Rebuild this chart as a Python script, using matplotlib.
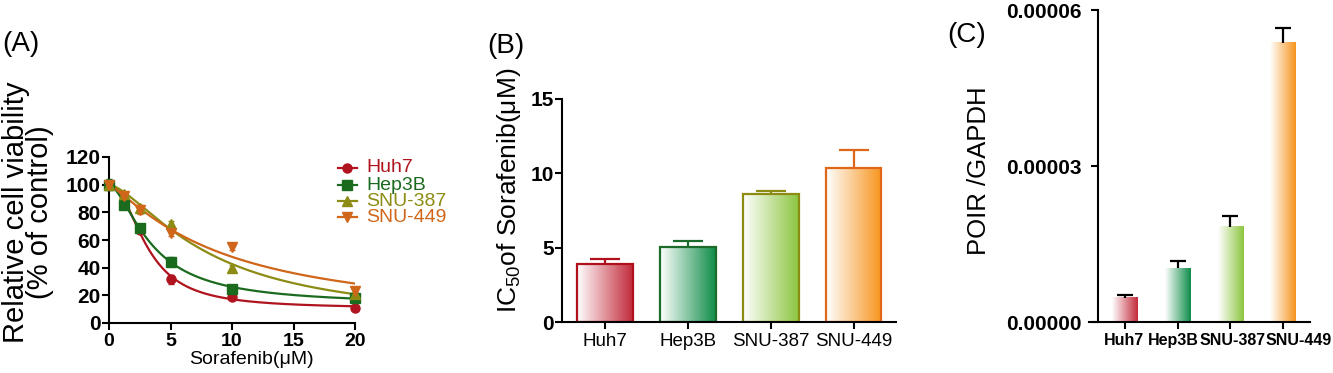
import numpy as np
import matplotlib
matplotlib.use('Agg')
import matplotlib.pyplot as plt
from matplotlib.colors import LinearSegmentedColormap
from matplotlib.lines import Line2D
from matplotlib.ticker import FixedLocator, FixedFormatter
from matplotlib.transforms import ScaledTranslation

plt.rcParams['font.family'] = ['Liberation Sans', 'DejaVu Sans']
plt.rcParams['mathtext.fontset'] = 'custom'
plt.rcParams['mathtext.rm'] = 'Liberation Sans'
plt.rcParams['mathtext.it'] = 'Liberation Sans:italic'
plt.rcParams['mathtext.bf'] = 'Liberation Sans:bold'

# ---- data ----
cells = ['Huh7', 'Hep3B', 'SNU-387', 'SNU-449']

# (A) dose response
conc = [0, 1.25, 2.5, 5, 10, 20]
via_huh7 = [100, 87, 67.5, 31.5, 19, 11.2]
via_hep3b = [100, 85.6, 69, 44.4, 24.5, 18.4]
via_snu387 = [100, 93, 83, 71.8, 40, 21.3]
via_snu449 = [100, 91.6, 82, 65, 54.8, 23.3]
err_huh7 = [2, 2, 2, 3, 2, 1]
err_hep3b = [4, 3, 2, 3, 3, 2]
err_snu387 = [2, 2, 2, 2, 2, 1]
err_snu449 = [3, 2, 3, 2, 2, 2]

# (B) IC50
ic50 = [3.9, 5.07, 8.61, 10.38]
ic50_err = [0.34, 0.38, 0.22, 1.19]

# (C) POIR / GAPDH
poir = [4.7e-6, 1.03e-5, 1.835e-5, 5.375e-5]
poir_err = [0.45e-6, 1.5e-6, 1.95e-6, 2.75e-6]
poir_ticks = [0, 3e-5, 6e-5]
poir_ticklabels = ['0.00000', '0.00003', '0.00006']

# colours
line_cols = ['#b0141e', '#1b6b1f', '#8c8c14', '#d0661a']
markers = ['o', 's', '^', 'v']
bar_cols_B = ['#c22a3a', '#0e8c48', '#8cc63f', '#f7941d']
edge_cols_B = ['#b0101c', '#1b6b2a', '#8c8c14', '#e0661a']
bar_cols_C = ['#c22a3a', '#0e8c48', '#8cc63f', '#f7941d']

W, H = 1333, 373
fig = plt.figure(figsize=(W / 100, H / 100), dpi=100)


def fpos(l, r, b, t):
    return [l / W, (H - b) / H, (r - l) / W, (b - t) / H]


def fit4pl(x, y):
    # top fixed at 100, grid search for bottom, ec50, hill
    x = np.asarray(x, float)
    y = np.asarray(y, float)
    bot = np.arange(0, 35, 0.5)[:, None, None, None]
    c = np.arange(1, 25, 0.1)[None, :, None, None]
    h = np.arange(0.5, 3.5, 0.05)[None, None, :, None]
    pred = bot + (100 - bot) / (1 + (x / c) ** h)
    sse = ((pred - y) ** 2).sum(-1)
    i = np.unravel_index(sse.argmin(), sse.shape)
    return bot.ravel()[i[0]], c.ravel()[i[1]], h.ravel()[i[2]]


def style_axes(ax):
    for s in ['top', 'right']:
        ax.spines[s].set_visible(False)
    for s in ['left', 'bottom']:
        ax.spines[s].set_linewidth(1.5)
    ax.tick_params(direction='out', width=1.5, length=5)


def hide_lower_caps(cont):
    caps = cont[1]
    if caps:
        low = min(caps, key=lambda c: np.min(c.get_ydata()))
        low.set_visible(False)


# ---------------- (A) ----------------
axA = fig.add_axes(fpos(109, 355, 323, 157))
style_axes(axA)
series = [via_huh7, via_hep3b, via_snu387, via_snu449]
errs = [err_huh7, err_hep3b, err_snu387, err_snu449]
xs = np.linspace(0, 20, 300)
for k in range(4):
    b, c, h = fit4pl(conc, series[k])
    axA.plot(xs, b + (100 - b) / (1 + (xs / c) ** h), color=line_cols[k], lw=1.6, zorder=2)
    axA.errorbar(conc, series[k], yerr=errs[k], fmt=markers[k], color=line_cols[k],
                 ms=6.5, elinewidth=1.5, capsize=2.5, clip_on=False, zorder=3)
axA.set_xlim(0, 20)
axA.set_ylim(0, 120)
axA.set_xticks([0, 5, 10, 15, 20])
axA.set_yticks(range(0, 121, 20))
axA.tick_params(axis='y', pad=1, labelsize=15)
axA.tick_params(axis='x', pad=2, labelsize=14)
for t in axA.get_xticklabels() + axA.get_yticklabels():
    t.set_fontweight('bold')
fig.text(251 / W, (H - 360) / H, 'Sorafenib(μM)', fontsize=14, ha='center', va='center')
fig.text(28 / W, (H - 212) / H, 'Relative cell viability\n(% of control)', fontsize=21,
         rotation=90, ha='center', va='center', multialignment='center', linespacing=0.85)

# legend
leg_y = [168, 185, 201, 217]
for k in range(4):
    yy = (H - leg_y[k]) / H
    fig.add_artist(Line2D([338 / W, 357 / W], [yy, yy], color=line_cols[k], lw=1.6,
                          transform=fig.transFigure))
    fig.add_artist(Line2D([347.5 / W], [yy], color=line_cols[k], lw=0,
                          marker=markers[k], ms=6.5, transform=fig.transFigure))
    fig.text(366 / W, yy, cells[k], color=line_cols[k], fontsize=14,
             ha='left', va='center')


# ---------------- gradient bars ----------------
def grad_bars(ax, vals, width, cols):
    for i, v in enumerate(vals):
        cmap = LinearSegmentedColormap.from_list('g', ['white', cols[i]])
        ax.imshow(np.linspace(0, 1, 256)[None, :], cmap=cmap, aspect='auto',
                  extent=(i - width / 2, i + width / 2, 0, v), origin='lower', zorder=1)


# ---------------- (B) ----------------
axB = fig.add_axes(fpos(562, 896, 322, 99))
style_axes(axB)
xb = np.arange(len(cells))
wB = 0.67
grad_bars(axB, ic50, wB, bar_cols_B)
axB.bar(xb, ic50, wB, facecolor='none', edgecolor=edge_cols_B, lw=1.6, zorder=2)
for i in range(4):
    cont = axB.errorbar(xb[i], ic50[i], yerr=[[0], [ic50_err[i]]], fmt='none',
                        ecolor=edge_cols_B[i], elinewidth=1.6, capsize=10.5,
                        capthick=1.6, zorder=2)
    hide_lower_caps(cont)
axB.set_xlim(-0.52, 3.51)
axB.set_ylim(0, 15)
axB.set_xticks(xb)
axB.set_xticklabels(cells, fontsize=13.5)
axB.set_yticks([0, 5, 10, 15])
axB.tick_params(axis='y', pad=1, labelsize=15)
axB.tick_params(axis='x', pad=3)
for t in axB.get_yticklabels():
    t.set_fontweight('bold')
fig.text(509 / W, (H - 190) / H, 'IC$_{50}$of Sorafenib(μM)', fontsize=19,
         rotation=90, ha='center', va='center')

# ---------------- (C) ----------------
axC = fig.add_axes(fpos(1089, 1310, 322, 10))
style_axes(axC)
axC.spines['left'].set_position(('axes', 0.04))
wC = 0.48
grad_bars(axC, poir, wC, bar_cols_C)
for i in range(4):
    cont = axC.errorbar(xb[i], poir[i], yerr=[[0], [poir_err[i]]], fmt='none',
                        ecolor='black', elinewidth=1.6, capsize=6, capthick=1.6, zorder=2)
    hide_lower_caps(cont)
axC.set_xlim(-0.68, 3.51)
axC.set_ylim(0, 6e-5)
axC.yaxis.set_major_locator(FixedLocator(poir_ticks))
axC.yaxis.set_major_formatter(FixedFormatter(poir_ticklabels))
axC.set_xticks(xb)
axC.set_xticklabels(cells, fontsize=11.5, fontweight='bold')
axC.tick_params(axis='y', pad=7, labelsize=15)
axC.tick_params(axis='x', pad=3)
for t in axC.get_yticklabels():
    t.set_fontweight('bold')
# labels in the reference sit slightly off their ticks
for lab, dx in zip(axC.get_xticklabels(), [-1, -4, 2, 16]):
    lab.set_transform(lab.get_transform() + ScaledTranslation(dx / 100, 0, fig.dpi_scale_trans))
fig.text(979 / W, (H - 171) / H, 'POIR /GAPDH', fontsize=18.5,
         rotation=90, ha='center', va='center')

# panel letters
fig.text(2 / W, (H - 44) / H, '(A)', fontsize=20, ha='left', va='center')
fig.text(487 / W, (H - 46) / H, '(B)', fontsize=20, ha='left', va='center')
fig.text(947 / W, (H - 35) / H, '(C)', fontsize=20, ha='left', va='center')

plt.savefig('out.png', dpi=100)
